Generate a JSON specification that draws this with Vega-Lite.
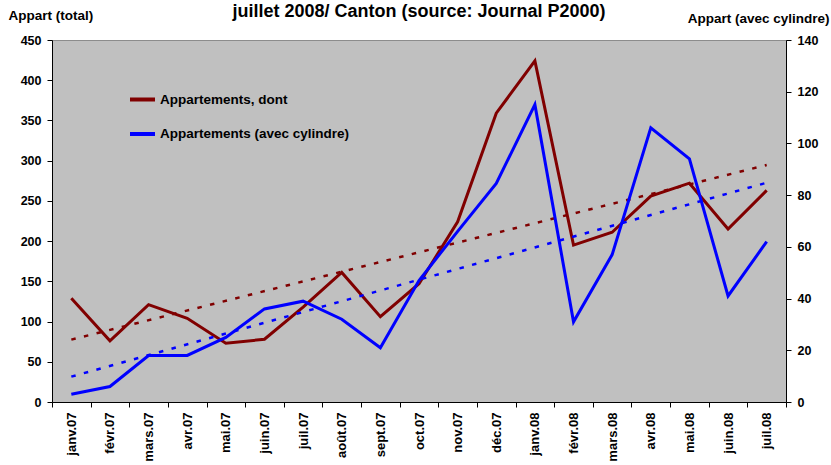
{
  "$schema": "https://vega.github.io/schema/vega-lite/v6.json",
  "width": 734,
  "height": 362,
  "autosize": {"type": "none"},
  "padding": {"left": 52, "top": 40, "right": 45, "bottom": 63},
  "background": "white",
  "title": {
    "text": "juillet 2008/ Canton (source: Journal P2000)",
    "font": "Liberation Sans",
    "fontSize": 18,
    "fontWeight": "bold",
    "color": "black",
    "anchor": "middle",
    "baseline": "alphabetic",
    "offset": 0,
    "dy": 27
  },
  "datasets": {
    "monthly": [
      {"month": "janv.07", "total": 129, "cyl": 3},
      {"month": "févr.07", "total": 76, "cyl": 6},
      {"month": "mars.07", "total": 121, "cyl": 18},
      {"month": "avr.07", "total": 104, "cyl": 18},
      {"month": "mai.07", "total": 73, "cyl": 25},
      {"month": "juin.07", "total": 78, "cyl": 36},
      {"month": "juil.07", "total": 118, "cyl": 39},
      {"month": "août.07", "total": 161, "cyl": 32},
      {"month": "sept.07", "total": 106, "cyl": 21},
      {"month": "oct.07", "total": 147, "cyl": 47},
      {"month": "nov.07", "total": 224, "cyl": 66},
      {"month": "déc.07", "total": 359, "cyl": 84.5},
      {"month": "janv.08", "total": 424, "cyl": 115},
      {"month": "févr.08", "total": 195, "cyl": 31},
      {"month": "mars.08", "total": 211, "cyl": 57},
      {"month": "avr.08", "total": 256, "cyl": 106},
      {"month": "mai.08", "total": 272, "cyl": 94},
      {"month": "juin.08", "total": 215, "cyl": 41},
      {"month": "juil.08", "total": 263, "cyl": 62}
    ],
    "trend": [
      {"month": "janv.07", "total": 77.5, "cyl": 9.8},
      {"month": "juil.08", "total": 294.6, "cyl": 84.8}
    ]
  },
  "encoding": {
    "x": {
      "field": "month",
      "type": "ordinal",
      "bandPosition": 0.5,
      "scale": {
        "type": "band",
        "paddingInner": 0,
        "paddingOuter": 0,
        "domain": ["janv.07", "févr.07", "mars.07", "avr.07", "mai.07", "juin.07", "juil.07", "août.07", "sept.07", "oct.07", "nov.07", "déc.07", "janv.08", "févr.08", "mars.08", "avr.08", "mai.08", "juin.08", "juil.08"]
      },
      "axis": {
        "title": null,
        "labelAngle": 270,
        "labelAlign": "right",
        "labelBaseline": "middle",
        "labelFontSize": 13,
        "labelPadding": 5,
        "tickSize": 5,
        "tickBand": "extent",
        "grid": false
      }
    }
  },
  "layer": [
    {
      "encoding": {
        "y": {
          "field": "total",
          "type": "quantitative",
          "scale": {"domain": [0, 450], "nice": false, "zero": true},
          "axis": {
            "orient": "left",
            "title": "Appart (total)",
            "values": [0, 50, 100, 150, 200, 250, 300, 350, 400, 450],
            "titleAngle": 0,
            "titleAlign": "left",
            "titleBaseline": "alphabetic",
            "titleX": -44,
            "titleY": -21,
            "grid": false,
            "tickSize": 5,
            "labelPadding": 6
          }
        }
      },
      "layer": [
        {
          "data": {"name": "trend"},
          "mark": {"type": "line", "color": "#800000", "strokeWidth": 2.5, "strokeDash": [4.5, 8.5]}
        },
        {
          "data": {"name": "monthly"},
          "mark": {"type": "line", "strokeWidth": 3},
          "encoding": {
            "color": {
              "datum": "Appartements, dont",
              "type": "nominal",
              "scale": {
                "domain": ["Appartements, dont", "Appartements (avec cylindre)"],
                "range": ["#800000", "#0000ff"]
              },
              "legend": {
                "title": null,
                "orient": "none",
                "legendX": 76,
                "legendY": 45,
                "symbolType": "stroke",
                "symbolSize": 625,
                "symbolStrokeWidth": 4,
                "labelFont": "Liberation Sans",
                "labelFontSize": 13.5,
                "labelFontWeight": "bold",
                "labelColor": "black",
                "labelOffset": 3,
                "labelLimit": 400,
                "rowPadding": 11.5,
                "padding": 0
              }
            }
          }
        }
      ]
    },
    {
      "encoding": {
        "y": {
          "field": "cyl",
          "type": "quantitative",
          "scale": {"domain": [0, 140], "nice": false, "zero": true},
          "axis": {
            "orient": "right",
            "title": "Appart (avec cylindre)",
            "values": [0, 20, 40, 60, 80, 100, 120, 140],
            "titleAngle": 0,
            "titleAlign": "right",
            "titleBaseline": "alphabetic",
            "titleX": 43,
            "titleY": -18,
            "grid": false,
            "tickSize": 5,
            "labelPadding": 6
          }
        }
      },
      "layer": [
        {
          "data": {"name": "trend"},
          "mark": {"type": "line", "color": "#0000ff", "strokeWidth": 2.5, "strokeDash": [4.5, 8.5]}
        },
        {
          "data": {"name": "monthly"},
          "mark": {"type": "line", "strokeWidth": 3},
          "encoding": {
            "color": {"datum": "Appartements (avec cylindre)", "type": "nominal"}
          }
        }
      ]
    }
  ],
  "resolve": {"scale": {"y": "independent"}},
  "config": {
    "view": {"fill": "#c0c0c0", "stroke": "#8c8c8c", "strokeWidth": 1},
    "axis": {
      "labelFont": "Liberation Sans",
      "labelFontSize": 12.5,
      "labelFontWeight": "bold",
      "labelColor": "black",
      "titleFont": "Liberation Sans",
      "titleFontSize": 13.5,
      "titleFontWeight": "bold",
      "titleColor": "black",
      "domainColor": "black",
      "domainWidth": 1,
      "tickColor": "black",
      "tickWidth": 1
    }
  }
}
